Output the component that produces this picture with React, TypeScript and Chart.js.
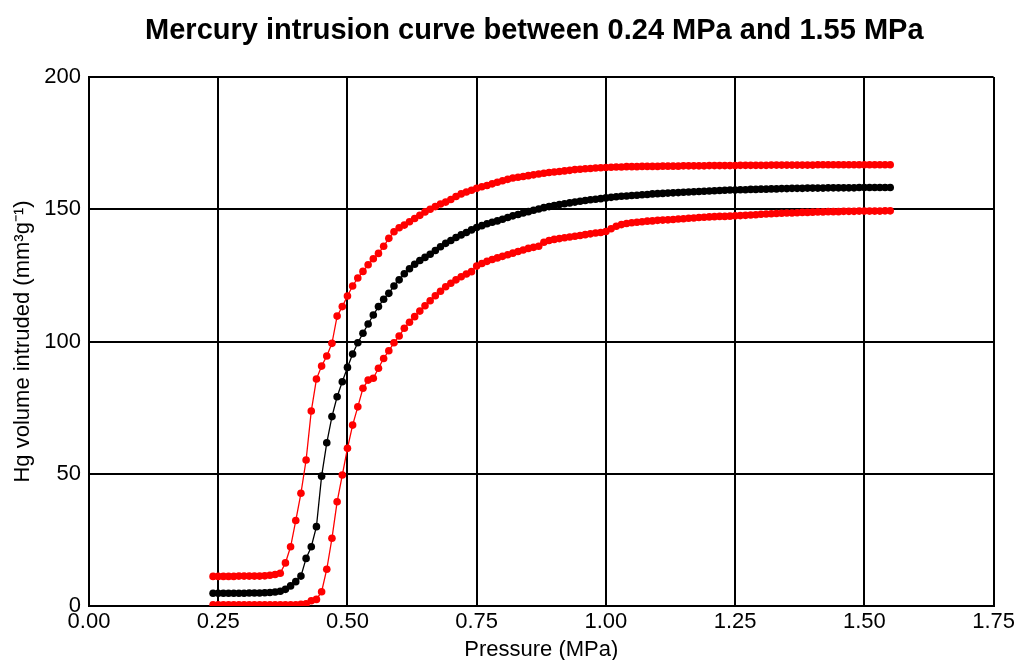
import React, { useEffect, useRef } from "react";
import { Chart, registerables } from "chart.js";

Chart.register(...registerables);

const pressures = [
  0.24, 0.25, 0.26, 0.27, 0.28, 0.29, 0.3, 0.31, 0.32, 0.33,
  0.34, 0.35, 0.36, 0.37, 0.38, 0.39, 0.4, 0.41, 0.42, 0.43,
  0.44, 0.45, 0.46, 0.47, 0.48, 0.49, 0.5, 0.51, 0.52, 0.53,
  0.54, 0.55, 0.56, 0.57, 0.58, 0.59, 0.6, 0.61, 0.62, 0.63,
  0.64, 0.65, 0.66, 0.67, 0.68, 0.69, 0.7, 0.71, 0.72, 0.73,
  0.74, 0.75, 0.76, 0.77, 0.78, 0.79, 0.8, 0.81, 0.82, 0.83,
  0.84, 0.85, 0.86, 0.87, 0.88, 0.89, 0.9, 0.91, 0.92, 0.93,
  0.94, 0.95, 0.96, 0.97, 0.98, 0.99, 1.0, 1.01, 1.02, 1.03,
  1.04, 1.05, 1.06, 1.07, 1.08, 1.09, 1.1, 1.11, 1.12, 1.13,
  1.14, 1.15, 1.16, 1.17, 1.18, 1.19, 1.2, 1.21, 1.22, 1.23,
  1.24, 1.25, 1.26, 1.27, 1.28, 1.29, 1.3, 1.31, 1.32, 1.33,
  1.34, 1.35, 1.36, 1.37, 1.38, 1.39, 1.4, 1.41, 1.42, 1.43,
  1.44, 1.45, 1.46, 1.47, 1.48, 1.49, 1.5, 1.51, 1.52, 1.53,
  1.54, 1.55,
];

const upperRed = [
  11.2, 11.2, 11.2, 11.2, 11.2, 11.3, 11.3, 11.3, 11.3, 11.3,
  11.4, 11.6, 11.9, 12.4, 16.3, 22.4, 32.3, 42.6, 55.2, 73.7,
  85.8, 90.7, 94.5, 99.3, 109.6, 113.2, 117.2, 121.0, 124.0, 126.5,
  129.0, 131.3, 133.3, 136.0, 139.0, 141.5, 143.0, 144.0, 145.3, 146.5,
  147.7, 149.0, 150.0, 151.0, 152.0, 152.7, 153.7, 154.8, 155.8, 156.5,
  157.2, 157.9, 158.5, 159.0, 159.6, 160.2, 160.8, 161.3, 161.8, 162.1,
  162.4, 162.7, 163.0, 163.3, 163.6, 163.9, 164.1, 164.3, 164.5, 164.7,
  165.0, 165.1, 165.3, 165.4, 165.6, 165.7, 165.8, 165.9, 166.0, 166.0,
  166.1, 166.1, 166.1, 166.2, 166.2, 166.2, 166.2, 166.3, 166.3, 166.3,
  166.3, 166.4, 166.4, 166.4, 166.4, 166.4, 166.5, 166.5, 166.5, 166.5,
  166.5, 166.5, 166.6, 166.6, 166.6, 166.6, 166.6, 166.6, 166.7, 166.7,
  166.7, 166.7, 166.7, 166.7, 166.7, 166.7, 166.7, 166.8, 166.8, 166.8,
  166.8, 166.8, 166.8, 166.8, 166.8, 166.8, 166.8, 166.8, 166.8, 166.8,
  166.8, 166.8,
];

const meanBlack = [
  4.8, 4.8, 4.8, 4.8, 4.8, 4.8, 4.8, 4.9, 4.9, 4.9,
  5.0, 5.1, 5.3, 5.6, 6.3, 7.6, 9.2, 11.3, 18.0, 22.4,
  30.0, 49.1, 61.7, 71.6, 79.1, 84.8, 90.2, 95.3, 99.5, 103.1,
  106.6, 110.0, 113.2, 116.0, 118.2, 121.0, 123.3, 125.6, 127.5, 129.2,
  130.6, 131.8, 133.0, 134.4, 135.8, 137.1, 138.2, 139.3, 140.3, 141.2,
  142.2, 143.1, 143.8, 144.5, 145.1, 145.6, 146.2, 146.9, 147.5, 148.0,
  148.6, 149.1, 149.6, 150.1, 150.6, 151.0, 151.4, 151.8, 152.1, 152.4,
  152.7, 153.0, 153.3, 153.6, 153.8, 154.0, 154.3, 154.5, 154.7, 154.9,
  155.0, 155.2, 155.3, 155.5, 155.6, 155.8, 155.9, 156.0, 156.1, 156.2,
  156.3, 156.4, 156.5, 156.6, 156.7, 156.8, 156.9, 157.0, 157.1, 157.2,
  157.3, 157.3, 157.4, 157.4, 157.5, 157.5, 157.6, 157.6, 157.7, 157.7,
  157.8, 157.8, 157.9, 157.9, 157.9, 158.0, 158.0, 158.0, 158.0, 158.1,
  158.1, 158.1, 158.1, 158.1, 158.1, 158.2, 158.2, 158.2, 158.2, 158.2,
  158.2, 158.2,
];

const lowerRed = [
  0.5, 0.5, 0.5, 0.5, 0.5, 0.5, 0.5, 0.5, 0.5, 0.5,
  0.5, 0.5, 0.5, 0.5, 0.5, 0.5, 0.5, 0.6, 0.8, 2.0,
  2.5, 5.4, 13.9, 25.6, 39.4, 49.5, 59.6, 68.4, 75.3, 82.3,
  85.4, 86.1, 89.9, 93.6, 96.5, 99.5, 102.1, 105.0, 107.3, 109.4,
  111.5, 113.5, 115.4, 117.3, 119.0, 120.7, 122.0, 123.3, 124.5, 125.5,
  126.4, 128.5, 129.5, 130.3, 131.0, 131.6, 132.2, 132.8, 133.4, 134.0,
  134.6, 135.2, 135.6, 136.0, 137.5, 138.2, 138.6, 138.9, 139.2, 139.5,
  139.8, 140.1, 140.4, 140.7, 141.0, 141.2, 141.6, 142.6, 143.6, 144.2,
  144.6, 144.9, 145.1, 145.3, 145.5, 145.6, 145.8, 145.9, 146.0, 146.1,
  146.3, 146.4, 146.6, 146.7, 146.9, 147.0, 147.1, 147.2, 147.3, 147.3,
  147.4, 147.5, 147.6, 147.7, 147.8, 147.9, 148.1, 148.2, 148.3, 148.4,
  148.5, 148.6, 148.6, 148.7, 148.8, 148.8, 148.9, 149.0, 149.0, 149.1,
  149.1, 149.1, 149.2, 149.2, 149.2, 149.3, 149.3, 149.3, 149.3, 149.3,
  149.4, 149.4,
];

const titleText = "Mercury intrusion curve between 0.24 MPa and 1.55 MPa";
const xTitle = "Pressure (MPa)";
const yTitle = "Hg volume intruded (mm³g⁻¹)";
const FONT = '"Liberation Sans", Arial, sans-serif';

const titlePlugin = {
  id: "centeredTitle",
  afterDraw(chart: any) {
    const { ctx, chartArea } = chart;
    ctx.save();
    ctx.font = `bold 29px ${FONT}`;
    ctx.fillStyle = "#000";
    ctx.textAlign = "center";
    ctx.textBaseline = "middle";
    ctx.fillText(titleText, (chartArea.left + chartArea.right) / 2 - 7, 31);
    ctx.restore();
  },
};

function series(values: number[], color: string, label: string) {
  return {
    label,
    data: pressures.map((p, i) => ({ x: p, y: values[i] })),
    borderColor: color,
    backgroundColor: color,
    pointBackgroundColor: color,
    pointBorderColor: color,
    pointBorderWidth: 0,
    pointRadius: 3.8,
    borderWidth: 1.3,
    tension: 0,
    fill: false,
  };
}

export default function App() {
  const ref = useRef<HTMLCanvasElement | null>(null);
  useEffect(() => {
    if (!ref.current) return;
    const chart = new Chart(ref.current, {
      type: "line",
      data: {
        datasets: [
          series(upperRed, "#ff0000", "Upper"),
          series(meanBlack, "#000000", "Mean"),
          series(lowerRed, "#ff0000", "Lower"),
        ],
      },
      options: {
        responsive: false,
        animation: false,
        layout: { padding: { top: 77, right: 22, left: 0, bottom: 0 } },
        plugins: {
          legend: { display: false },
          tooltip: { enabled: false },
          title: { display: false },
        },
        scales: {
          x: {
            type: "linear",
            min: 0,
            max: 1.75,
            ticks: {
              stepSize: 0.25,
              color: "#000",
              font: { family: FONT, size: 22 },
              padding: 3,
              maxRotation: 0,
              autoSkip: false,
              callback: (v: any) => Number(v).toFixed(2),
            },
            grid: { color: "#000", lineWidth: 2, drawTicks: false },
            border: { color: "#000", width: 2 },
            title: {
              display: true,
              text: xTitle,
              color: "#000",
              font: { family: FONT, size: 22 },
              padding: { top: 0, bottom: -3 },
            },
            afterFit: (s: any) => {
              s.height = 54;
            },
          },
          y: {
            type: "linear",
            min: 0,
            max: 200,
            ticks: {
              stepSize: 50,
              color: "#000",
              font: { family: FONT, size: 22 },
              padding: 8,
            },
            grid: { color: "#000", lineWidth: 2, drawTicks: false },
            border: { color: "#000", width: 2 },
            title: {
              display: true,
              text: yTitle,
              color: "#000",
              font: { family: FONT, size: 22 },
              padding: { top: 10, bottom: 0 },
            },
            afterFit: (s: any) => {
              s.width = 89;
            },
          },
        },
      },
      plugins: [titlePlugin],
    } as any);
    return () => chart.destroy();
  }, []);
  return (
    <canvas
      ref={ref}
      width={1018}
      height={660}
      style={{ position: "absolute", left: 0, top: 0, width: 1018, height: 660 }}
    />
  );
}
